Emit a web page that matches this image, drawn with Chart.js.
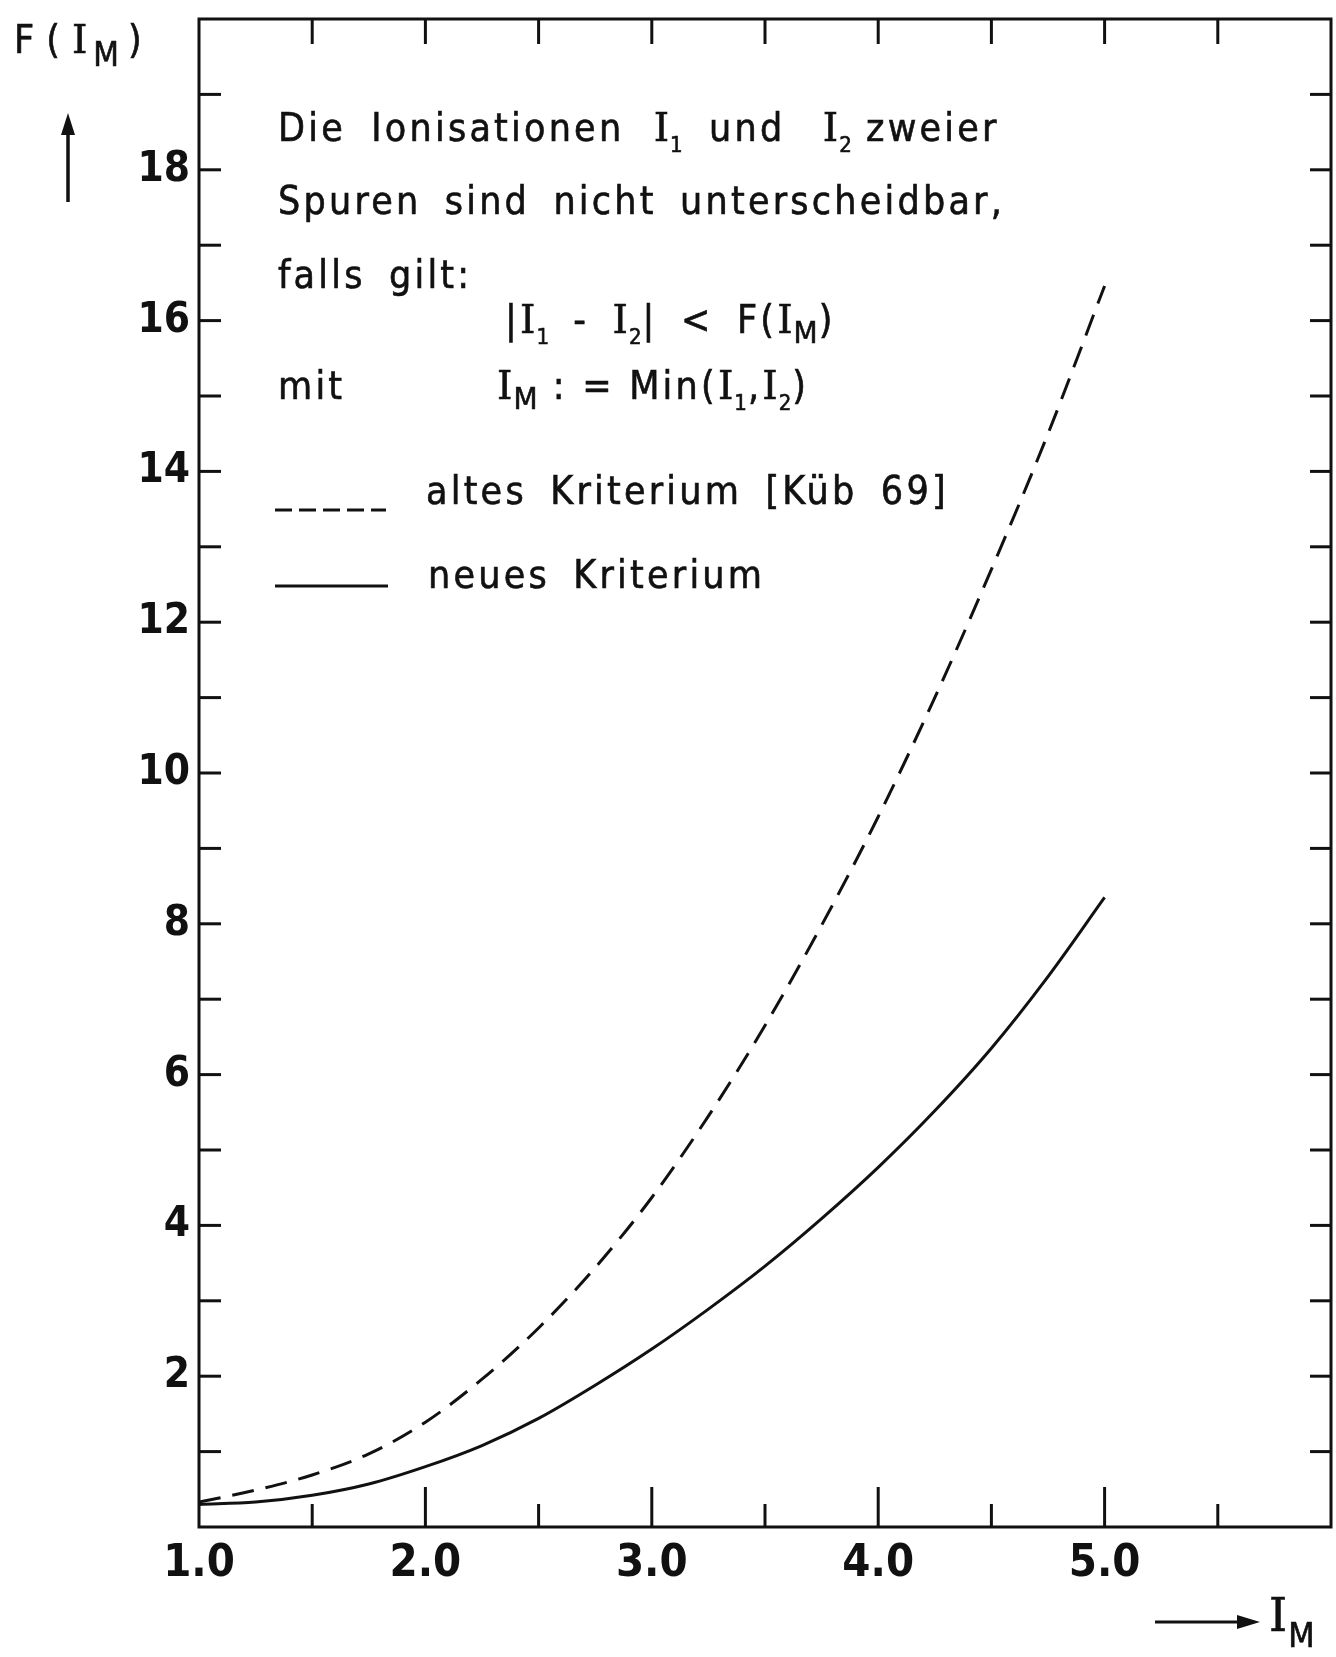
<!DOCTYPE html>
<html lang="de">
<head>
    <meta charset="UTF-8">
    <title>F(I_M) - Kriterium</title>
    <script src="https://cdn.jsdelivr.net/npm/chart.js"></script>
    <style>
        html, body {
            margin: 0;
            padding: 0;
            background: #fff;
            overflow: hidden;
        }
        #wrap {
            position: absolute;
            left: 0;
            top: 0;
            width: 1336px;
            height: 1657px;
        }
        .t {
            position: absolute;
            font-family: 'DejaVu Sans Condensed', 'DejaVu Sans', sans-serif;
            font-size: 39px;
            line-height: 39px;
            letter-spacing: 3.2px;
            word-spacing: 9px;
            white-space: nowrap;
            color: #111;
            -webkit-text-stroke: 0.6px #111;
        }
        .I {
            font-family: 'DejaVu Serif', serif;
            letter-spacing: 1px;
        }
        .s {
            font-size: 22px;
            position: relative;
            top: 11px;
            letter-spacing: 1px;
        }
        .m {
            font-size: 31px;
            position: relative;
            top: 10px;
            letter-spacing: 1px;
        }
        #deco {
            position: absolute;
            left: 0;
            top: 0;
            pointer-events: none;
        }
    </style>
</head>
<body>
    <div id="wrap"><canvas id="chart"></canvas></div>

    <!-- axis titles -->
    <div class="t" style="left:14px;top:20px;letter-spacing:12px;">F(<span class="I" style="letter-spacing:6px;">I</span><span class="m" style="font-size:33px;top:13px;letter-spacing:9px;">M</span>)</div>
    <div class="t" style="left:1269px;top:1596px;font-size:46px;"><span class="I">I</span><span class="m" style="font-size:34px;top:16px;">M</span></div>

    <!-- annotation -->
    <div class="t" style="left:278px;top:108px;word-spacing:11px;">Die Ionisationen <span class="I" style="margin-left:4px;">I</span><span class="s">1</span> und <span class="I" style="margin-left:12px;">I</span><span class="s" style="margin-right:-12px;">2</span> zweier</div>
    <div class="t" style="left:278px;top:181px;">Spuren sind nicht unterscheidbar,</div>
    <div class="t" style="left:278px;top:255px;">falls gilt:</div>
    <div class="t" style="left:505px;top:300px;">|<span class="I">I</span><span class="s">1</span> - <span class="I">I</span><span class="s">2</span>| &lt; F(<span class="I">I</span><span class="m">M</span>)</div>
    <div class="t" style="left:278px;top:366px;">mit</div>
    <div class="t" style="left:497px;top:366px;word-spacing:0px;"><span class="I">I</span><span class="m">M</span> : = Min(<span class="I">I</span><span class="s">1</span>,<span class="I">I</span><span class="s">2</span>)</div>

    <!-- legend -->
    <div class="t" style="left:426px;top:471px;">altes Kriterium [Küb 69]</div>
    <div class="t" style="left:428px;top:555px;">neues Kriterium</div>

    <svg id="deco" width="1336" height="1657">
        <line x1="275" y1="510" x2="386" y2="510" stroke="#111" stroke-width="3" stroke-dasharray="17 7"/>
        <line x1="275" y1="586" x2="388" y2="586" stroke="#111" stroke-width="3"/>
        <line x1="68" y1="202" x2="68" y2="128" stroke="#111" stroke-width="3.5"/>
        <polygon points="68,113 61,135 75,135" fill="#111"/>
        <line x1="1155" y1="1622" x2="1245" y2="1622" stroke="#111" stroke-width="3"/>
        <polygon points="1260,1622 1237,1615 1237,1629" fill="#111"/>
    </svg>

    <script>
        // values
        const imValues = [1.0, 1.25, 1.5, 1.75, 2.0, 2.25, 2.5, 2.75, 3.0, 3.25, 3.5, 3.75, 4.0, 4.25, 4.5, 4.75, 5.0];
        const altesKriterium = [0.33, 0.49, 0.69, 0.97, 1.39, 1.96, 2.64, 3.44, 4.37, 5.45, 6.65, 7.98, 9.42, 11.00, 12.70, 14.50, 16.46];
        const neuesKriterium = [0.30, 0.33, 0.42, 0.57, 0.80, 1.08, 1.44, 1.88, 2.36, 2.89, 3.46, 4.09, 4.77, 5.52, 6.35, 7.30, 8.35];
        const xTickLabels = ['1.0', '2.0', '3.0', '4.0', '5.0'];
        const yTickLabels = ['2', '4', '6', '8', '10', '12', '14', '16', '18'];

        const ink = '#111';

        // frame with inward ticks on all four sides
        const frameTicks = {
            id: 'frameTicks',
            afterDatasetsDraw(chart) {
                const { ctx, chartArea: a, scales: { x, y } } = chart;
                const seg = (x1, y1, x2, y2) => {
                    ctx.beginPath();
                    ctx.moveTo(x1, y1);
                    ctx.lineTo(x2, y2);
                    ctx.stroke();
                };
                ctx.save();
                ctx.strokeStyle = ink;
                ctx.lineWidth = 3;
                ctx.strokeRect(a.left, a.top, a.right - a.left, a.bottom - a.top);
                for (let v = 1; v < 20; v++) {
                    const py = y.getPixelForValue(v);
                    seg(a.left, py, a.left + 22, py);
                    seg(a.right, py, a.right - 21, py);
                }
                for (let v = 1.5; v < 6; v += 0.5) {
                    const px = x.getPixelForValue(v);
                    const major = Number.isInteger(v);
                    seg(px, a.bottom, px, a.bottom - (major ? 40 : 23));
                    seg(px, a.top, px, a.top + 25);
                }
                ctx.restore();
            }
        };

        const toPoints = (ys) => imValues.map((v, i) => ({ x: v, y: ys[i] }));

        new Chart(document.getElementById('chart'), {
            type: 'line',
            data: {
                datasets: [
                    {
                        label: 'altes Kriterium [Küb 69]',
                        data: toPoints(altesKriterium),
                        borderColor: ink,
                        borderWidth: 3,
                        borderDash: [22, 12],
                        pointRadius: 0,
                        cubicInterpolationMode: 'monotone',
                        fill: false
                    },
                    {
                        label: 'neues Kriterium',
                        data: toPoints(neuesKriterium),
                        borderColor: ink,
                        borderWidth: 3,
                        pointRadius: 0,
                        cubicInterpolationMode: 'monotone',
                        fill: false
                    }
                ]
            },
            options: {
                responsive: true,
                maintainAspectRatio: false,
                animation: false,
                layout: {
                    padding: { left: 0, right: 5, top: 19, bottom: 0 }
                },
                plugins: {
                    legend: { display: false },
                    tooltip: { enabled: false }
                },
                scales: {
                    x: {
                        type: 'linear',
                        min: 1,
                        max: 6,
                        grid: { display: false, drawTicks: false },
                        border: { display: false },
                        ticks: {
                            stepSize: 0.5,
                            autoSkip: false,
                            maxRotation: 0,
                            padding: 10,
                            color: ink,
                            font: { family: 'DejaVu Sans Condensed', size: 45, weight: 'bold' },
                            callback: (v) => {
                                const s = Number(v).toFixed(1);
                                return xTickLabels.includes(s) ? s : '';
                            }
                        },
                        afterFit: (scale) => {
                            scale.height = 130;
                            scale.paddingLeft = 0;
                            scale.paddingRight = 0;
                        }
                    },
                    y: {
                        min: 0,
                        max: 20,
                        grid: { display: false, drawTicks: false },
                        border: { display: false },
                        ticks: {
                            stepSize: 1,
                            autoSkip: false,
                            padding: 9,
                            color: ink,
                            font: { family: 'DejaVu Sans Condensed', size: 42, weight: 'bold' },
                            callback: (v) => yTickLabels.includes(String(v)) ? String(v) : ''
                        },
                        afterFit: (scale) => {
                            scale.width = 199;
                            scale.paddingTop = 0;
                            scale.paddingBottom = 0;
                        }
                    }
                }
            },
            plugins: [frameTicks]
        });
    </script>
</body>
</html>
